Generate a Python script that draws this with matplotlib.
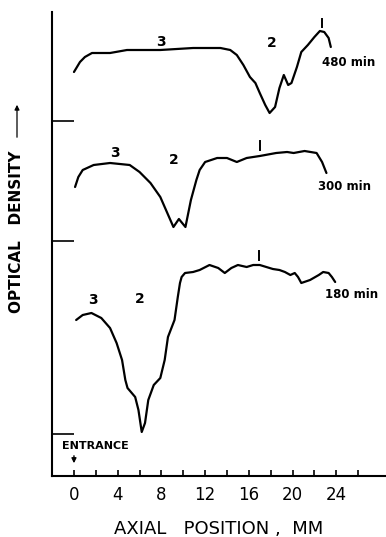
import matplotlib
matplotlib.use('Agg')
from matplotlib import pyplot as plt

# axial position (mm) and optical density (arbitrary units, curves stacked)
x_480 = [0, 0.55, 1.0, 1.65, 3.3, 4.85, 7.9, 10.9, 13.4, 14.3, 14.9, 15.5, 16.1,
         16.6, 17.0, 17.5, 17.9, 18.4, 18.8, 19.2, 19.6, 19.9, 20.4, 20.8, 21.4,
         22.0, 22.5, 22.9, 23.3, 23.5]
od_480 = [4.04, 4.14, 4.19, 4.23, 4.23, 4.26, 4.26, 4.28, 4.28, 4.26, 4.21, 4.11,
          3.99, 3.93, 3.83, 3.71, 3.63, 3.69, 3.88, 4.01, 3.91, 3.93, 4.09, 4.24,
          4.31, 4.39, 4.45, 4.44, 4.38, 4.29]

x_300 = [0.1, 0.4, 0.8, 1.8, 3.3, 5.1, 6.0, 7.0, 7.9, 8.5, 9.1, 9.6, 10.2, 10.7,
         11.2, 11.5, 12.0, 13.1, 14.0, 14.9, 15.8, 17.0, 18.5, 19.5, 20.1, 21.1,
         22.2, 22.7, 23.1]
od_300 = [2.89, 2.99, 3.06, 3.11, 3.13, 3.11, 3.04, 2.93, 2.79, 2.64, 2.49, 2.57,
          2.49, 2.76, 2.96, 3.06, 3.14, 3.18, 3.18, 3.14, 3.18, 3.20, 3.23, 3.24,
          3.23, 3.25, 3.23, 3.14, 3.03]

x_180 = [0.2, 0.8, 1.6, 2.5, 3.3, 3.9, 4.4, 4.7, 4.9, 5.6, 5.9, 6.2, 6.5, 6.8,
         7.3, 7.9, 8.3, 8.6, 9.2, 9.5, 9.7, 9.85, 10.16, 10.9, 11.5, 12.4, 13.2,
         13.8, 14.4, 15.0, 15.8, 16.4, 17.0, 17.6, 18.2, 18.8, 19.3, 19.8, 20.2,
         20.5, 20.8, 21.6, 22.4, 22.8, 23.3, 23.6, 23.9]
od_180 = [1.56, 1.61, 1.63, 1.58, 1.48, 1.33, 1.16, 0.96, 0.88, 0.79, 0.66, 0.44,
          0.53, 0.76, 0.91, 0.98, 1.16, 1.39, 1.56, 1.79, 1.93, 1.99, 2.03, 2.04,
          2.06, 2.11, 2.08, 2.03, 2.08, 2.11, 2.09, 2.11, 2.11, 2.09, 2.07, 2.06,
          2.04, 2.01, 2.03, 1.99, 1.93, 1.96, 2.01, 2.04, 2.03, 1.99, 1.94]

# peak labels (band numbers) for each curve
bands = ['3', '2', '1']
band_x_480 = [8.0, 18.1, 22.65]
band_y_480 = [4.34, 4.33, 4.53]
band_x_300 = [3.75, 9.1, 17.0]
band_y_300 = [3.23, 3.16, 3.31]
band_x_180 = [1.75, 6.0, 16.9]
band_y_180 = [1.76, 1.77, 2.21]

times = ['480 min', '300 min', '180 min']
time_x = [22.7, 22.3, 23.0]
time_y = [4.14, 2.89, 1.81]

fig = plt.figure(figsize=(3.86, 5.37), dpi=100)
ax = fig.add_axes([52/386, 61/537, 334/386, 464/537])

for xs, ys in [(x_480, od_480), (x_300, od_300), (x_180, od_180)]:
    ax.plot(xs, ys, color='black', lw=1.6, solid_joinstyle='round', solid_capstyle='round')

for bx, by in [(band_x_480, band_y_480), (band_x_300, band_y_300), (band_x_180, band_y_180)]:
    for lab, xx, yy in zip(bands, bx, by):
        if lab == '1':
            # the "1" is drawn as a plain vertical stroke in the original
            ax.plot([xx, xx], [yy - 0.045, yy + 0.045], color='black', lw=1.4)
        else:
            ax.text(xx, yy, lab, ha='center', va='center', fontsize=10, fontweight='bold')

for t, xx, yy in zip(times, time_x, time_y):
    ax.text(xx, yy, t, ha='left', va='center', fontsize=8.5, fontweight='bold')

ax.text(2.0, 0.30, 'ENTRANCE', ha='center', va='center', fontsize=8, fontweight='bold')
ax.annotate('', xy=(0, 0.10), xytext=(0, 0.23),
            arrowprops=dict(arrowstyle='-|>', color='black', lw=1.0, mutation_scale=7))

ax.set_xlim(-2.01, 28.55)
ax.set_ylim(0, 4.64)
ax.spines['top'].set_visible(False)
ax.spines['right'].set_visible(False)
ax.spines['left'].set_linewidth(1.5)
ax.spines['bottom'].set_linewidth(1.5)

ax.set_xticks([0, 4, 8, 12, 16, 20, 24])
ax.set_xticks([2, 6, 10, 14, 18, 22, 26], minor=True)
ax.tick_params(axis='x', which='both', direction='in', length=4.5, width=1.2, pad=7,
               labelsize=12)
ax.set_yticks([3.55, 2.35, 0.42])
ax.set_yticklabels([])
ax.tick_params(axis='y', direction='in', length=16, width=1.2)

ax.set_xlabel('AXIAL   POSITION ,  MM', fontsize=13, labelpad=12)

fig.text(17/386, 1 - 232/537, 'OPTICAL   DENSITY', rotation=90, ha='center', va='center',
         fontsize=11, fontweight='bold')
fig.add_artist(matplotlib.patches.FancyArrowPatch((17/386, 1 - 140/537), (17/386, 1 - 102/537),
               transform=fig.transFigure, arrowstyle='-|>', mutation_scale=7, lw=0.9,
               color='black'))

fig.savefig('out.png', dpi=100)
